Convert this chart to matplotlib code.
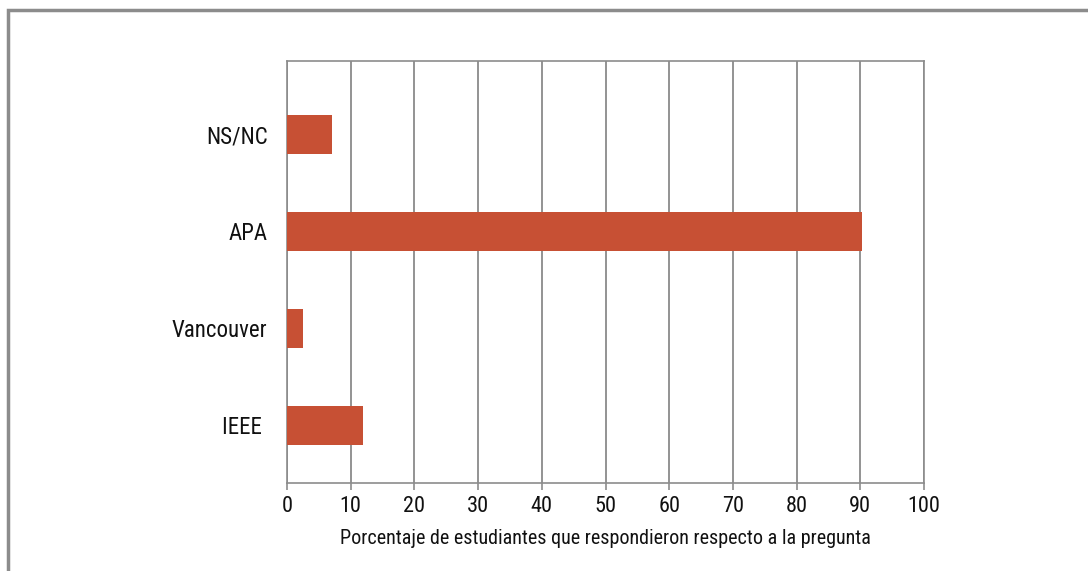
import matplotlib.pyplot as plt
from matplotlib.patches import Rectangle

# data (bottom to top)
categorias = ['IEEE ', 'Vancouver', 'APA', 'NS/NC']
porcentajes = [12, 2.5, 90.3, 7]
xticks = list(range(0, 101, 10))

plt.rcParams['font.family'] = ['Roboto Condensed', 'Roboto', 'DejaVu Sans']

fig = plt.figure(figsize=(10.88, 5.71), dpi=100)
ax = fig.add_axes([0.2638, 0.1536, 0.5855, 0.7401])

pos = list(range(len(categorias)))
ax.barh(pos, porcentajes, height=0.4, color='#C75034', zorder=3)

ax.set_xlim(0, 100)
ax.set_ylim(-0.6, 3.76)
ax.set_xticks(xticks)
ax.set_yticks(pos)
ax.set_yticklabels(categorias)
ax.xaxis.grid(True, color='#808080', linewidth=1.2, zorder=0)

for s in ax.spines.values():
    s.set_color('#8c8c8c')
    s.set_linewidth(1.2)

ax.tick_params(axis='x', length=5, width=1.2, color='#8c8c8c', pad=4,
               labelsize=16, labelcolor='#111111')
ax.tick_params(axis='y', length=0, pad=14, labelsize=16.5, labelcolor='#111111')
ax.set_xlabel('Porcentaje de estudiantes que respondieron respecto a la pregunta',
              fontsize=14.5, color='#111111', labelpad=9)

# marco exterior
fig.patches.append(Rectangle((7.5 / 1088, -0.1), 1.2, (571 - 10) / 571 + 0.1,
                             transform=fig.transFigure, fill=False,
                             edgecolor='#8c8c8c', linewidth=2.5))

fig.savefig('out.png', dpi=100)
